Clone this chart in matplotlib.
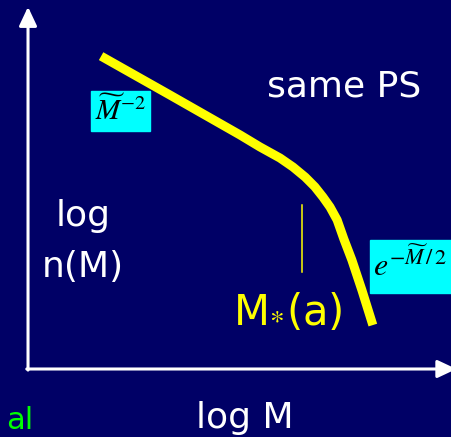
import matplotlib
matplotlib.use('Agg')
import matplotlib.pyplot as plt
from matplotlib.patches import Rectangle

# schematic mass function: log n(M) vs log M (arbitrary units)
log_m = [1.74, 3.38, 5.05, 5.52, 6.00, 6.31, 6.60, 6.83, 7.02, 7.19, 7.36, 7.52, 7.71, 7.95, 8.21]
log_n = [8.69, 7.61, 6.50, 6.17, 5.86, 5.61, 5.33, 5.06, 4.78, 4.50, 4.14, 3.61, 3.03, 2.19, 1.22]

m_star = 6.52          # position of the M*(a) marker
m_star_span = [2.69, 4.56]

bg = '#000066'
plt.rcParams['mathtext.fontset'] = 'stix'
plt.rcParams['font.family'] = ['DejaVu Sans']

fig = plt.figure(figsize=(4.51, 4.37), dpi=100, facecolor=bg)
ax = fig.add_axes([0, 0, 1, 1])
ax.set_facecolor(bg)
ax.set_xlim(-0.667, 10.071)
ax.set_ylim(-1.889, 10.25)
ax.axis('off')

# axes with arrows
arrow = dict(arrowstyle='-|>,head_length=1.15,head_width=0.54', mutation_scale=10,
             lw=2.2, color='white', shrinkA=0, shrinkB=0)
ax.annotate('', xy=(0, 10.06), xytext=(0, -0.03), arrowprops=arrow, annotation_clip=False)
ax.annotate('', xy=(10.2, 0), xytext=(-0.03, 0), arrowprops=arrow, annotation_clip=False)

# the curve
ax.plot(log_m, log_n, color='#ffff00', lw=6.5, solid_capstyle='butt', solid_joinstyle='round')
ax.plot([m_star, m_star], m_star_span, color='#ffff00', lw=1.1)

# labels
ax.text(7.52, 7.86, 'same PS', color='white', fontsize=26, ha='center', va='center')
ax.text(1.31, 3.97, 'log', color='white', fontsize=26, ha='center', va='baseline')
ax.text(1.31, 2.56, 'n(M)', color='white', fontsize=26, ha='center', va='baseline')
ax.text(5.17, -1.64, 'log M', color='white', fontsize=26, ha='center', va='baseline')
ax.text(6.18, 1.22, r'M$_{*}$(a)', color='#ffff00', fontsize=30, ha='center', va='baseline')
ax.text(0.12, -1.84, 'al', color='#00ff00', fontsize=22, ha='right', va='bottom')

# cyan formula boxes
ax.add_patch(Rectangle((1.5, 6.61), 1.405, 1.11, color='#00ffff', zorder=3))
ax.text(2.20, 7.17, r'$\widetilde{M}^{-2}$', color='black', fontsize=21,
        ha='center', va='center', zorder=4)
ax.add_patch(Rectangle((8.14, 2.11), 2.1, 1.47, color='#00ffff', zorder=3))
ax.text(8.22, 2.86, r'$e^{-\widetilde{M}\,/\,2}$', color='black', fontsize=23,
        ha='left', va='center', zorder=4)

fig.savefig('out.png', dpi=100, facecolor=bg)
